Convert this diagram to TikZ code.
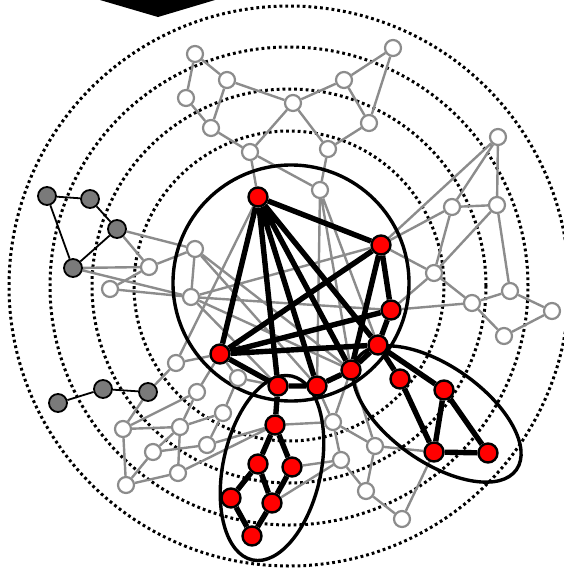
\documentclass[tikz,border=0pt]{standalone}
\usepackage{tikz}
\usetikzlibrary{backgrounds}

\definecolor{periline}{HTML}{8C8C8C}
\definecolor{tailfill}{HTML}{7A7A7A}

\begin{document}
\begin{tikzpicture}[x=1pt, y=-1pt]
    \tikzset{core/.style={circle, draw=black, line width=2.4pt, fill=red, minimum size=19pt, inner sep=0pt}}
    \tikzset{peri/.style={circle, draw=periline, line width=2.2pt, fill=white, minimum size=16pt, inner sep=0pt}}
    \tikzset{tail/.style={circle, draw=black, line width=1.8pt, fill=tailfill, minimum size=18pt, inner sep=0pt}}
    \tikzset{link/.style={draw=periline, line width=2.4pt}}
    \tikzset{taillink/.style={draw=black, line width=1.8pt}}
    \tikzset{corelink/.style={draw=black, line width=5.4pt}}
    \tikzset{shell/.style={draw=black, line width=3pt, dash pattern=on 2.8pt off 3pt}}
    \tikzset{hull/.style={draw=black, line width=3.4pt}}

    \useasboundingbox (0,0) rectangle (564,568);

    % marker at the top edge
    \fill (100,0) -- (158,17) -- (215,0) -- cycle;

    % core
    \node [core] (r1) at (258,197) {};
    \node [core] (r2) at (381,245) {};
    \node [core] (r3) at (391,310) {};
    \node [core] (r4) at (378,345) {};
    \node [core] (r5) at (220,354) {};
    \node [core] (r6) at (278,386) {};
    \node [core] (r7) at (317,386) {};
    \node [core] (r8) at (351,370) {};
    \node [core] (r9) at (400,379) {};
    \node [core] (r10) at (444,390) {};
    \node [core] (r11) at (434,452) {};
    \node [core] (r12) at (488,453) {};
    \node [core] (r13) at (275,425) {};
    \node [core] (r14) at (258,464) {};
    \node [core] (r15) at (292,467) {};
    \node [core] (r16) at (231,498) {};
    \node [core] (r17) at (272,503) {};
    \node [core] (r18) at (252,536) {};

    % periphery, top
    \node [peri] (g1) at (195,54) {};
    \node [peri] (g2) at (227,80) {};
    \node [peri] (g3) at (186,98) {};
    \node [peri] (g4) at (211,128) {};
    \node [peri] (g5) at (250,152) {};
    \node [peri] (g6) at (293,103) {};
    \node [peri] (g7) at (344,80) {};
    \node [peri] (g8) at (393,48) {};
    \node [peri] (g9) at (369,123) {};
    \node [peri] (g10) at (328,149) {};
    \node [peri] (g11) at (320,190) {};

    % periphery, left
    \node [peri] (g12) at (195,249) {};
    \node [peri] (g13) at (149,267) {};
    \node [peri] (g14) at (110,289) {};
    \node [peri] (g15) at (191,297) {};

    % periphery, right
    \node [peri] (g16) at (498,137) {};
    \node [peri] (g17) at (452,207) {};
    \node [peri] (g18) at (497,205) {};
    \node [peri] (g19) at (434,273) {};
    \node [peri] (g20) at (510,291) {};
    \node [peri] (g21) at (472,303) {};
    \node [peri] (g22) at (552,311) {};
    \node [peri] (g23) at (504,336) {};

    % periphery, bottom
    \node [peri] (g24) at (333,422) {};
    \node [peri] (g25) at (375,446) {};
    \node [peri] (g26) at (341,460) {};
    \node [peri] (g27) at (366,491) {};
    \node [peri] (g28) at (402,519) {};

    % periphery, lower left
    \node [peri] (g29) at (176,363) {};
    \node [peri] (g30) at (197,392) {};
    \node [peri] (g31) at (238,378) {};
    \node [peri] (g32) at (223,413) {};
    \node [peri] (g33) at (123,429) {};
    \node [peri] (g34) at (180,427) {};
    \node [peri] (g35) at (153,452) {};
    \node [peri] (g36) at (207,445) {};
    \node [peri] (g37) at (126,485) {};
    \node [peri] (g38) at (178,473) {};

    % tails
    \node [tail] (d1) at (47,196) {};
    \node [tail] (d2) at (90,199) {};
    \node [tail] (d3) at (117,229) {};
    \node [tail] (d4) at (73,268) {};
    \node [tail] (d5) at (58,403) {};
    \node [tail] (d6) at (103,389) {};
    \node [tail] (d7) at (148,392) {};

    \begin{scope}[on background layer]
    % shells
    \draw [shell] (289,286) circle [radius=280pt];
    \draw [shell] (289,286) circle [radius=239pt];
    \draw [shell] (289,286) circle [radius=197pt];
    \draw [shell] (289,286) circle [radius=155pt];

    % periphery links
    \draw [link] (g1) -- (g2) (g1) -- (g3) (g3) -- (g4) (g2) -- (g4) (g4) -- (g5);
    \draw [link] (g2) -- (g6) (g6) -- (g5) (g6) -- (g10) (g6) -- (g7) (g7) -- (g8);
    \draw [link] (g7) -- (g9) (g8) -- (g9) (g9) -- (g10) (g10) -- (g11) (g5) -- (g11) (g5) -- (r1);

    \draw [link] (d3) -- (g12) (d3) -- (g13) (d4) -- (g13) (d4) -- (g15);
    \draw [link] (g12) -- (g13) (g13) -- (g14) (g12) -- (g15) (g14) -- (g15);

    \draw [link] (g16) -- (r2) (g16) -- (g17) (g16) -- (g18) (g17) -- (g18) (g17) -- (r2);
    \draw [link] (g17) -- (g19) (g18) -- (g19) (g18) -- (g20) (g19) -- (r2) (g19) -- (r3);
    \draw [link] (g19) -- (g21) (g21) -- (r3) (g20) -- (g21) (g20) -- (g22) (g21) -- (g23) (g22) -- (g23);

    \draw [link] (r7) -- (g24) (r8) -- (g24) (r8) -- (g25) (g24) -- (g25) (g24) -- (g26) (g24) -- (r13);
    \draw [link] (g26) -- (r15) (g26) -- (r17) (g26) -- (g27) (g25) -- (g27) (g27) -- (g28);
    \draw [link] (g28) -- (r11) (g25) -- (r11);

    \draw [link] (g29) -- (r5) (g29) -- (r1) (d7) -- (g29) (d7) -- (g33) (g33) -- (g30) (g33) -- (g34);
    \draw [link] (g33) -- (g37) (g30) -- (g34) (g30) -- (r5) (g34) -- (g32) (g34) -- (g35) (g34) -- (g38);
    \draw [link] (g35) -- (g37) (g35) -- (g36) (g37) -- (g38) (g36) -- (g32) (g36) -- (r13) (g38) -- (r13);
    \draw [link] (g32) -- (g31) (g31) -- (r5) (g31) -- (r6);

    \draw [link] (g12) -- (r7) (g12) -- (r8) (g15) -- (r2) (g15) -- (r3) (g15) -- (r6) (g15) -- (r8);
    \draw [link] (g11) -- (r4) (g11) -- (r7) (g11) -- (r8);

    % tail links
    \draw [taillink] (d1) -- (d2) (d2) -- (d3) (d3) -- (d4) (d4) -- (d1);
    \draw [taillink] (d5) -- (d6) (d6) -- (d7);

    % groups
    \draw [hull] (291,283) circle [radius=118pt];
    \draw [hull, rotate around={-12:(272,468)}] (272,468) ellipse [x radius=49pt, y radius=94pt];
    \draw [hull, rotate around={-35:(437,414)}] (437,414) ellipse [x radius=97pt, y radius=48pt];

    % core links
    \draw [corelink] (r1) -- (r2) (r1) -- (r5) (r1) -- (r6) (r1) -- (r7) (r1) -- (r8) (r1) -- (r4);
    \draw [corelink] (r2) -- (r5) (r2) -- (r3) (r2) -- (r8) (r5) -- (r3) (r5) -- (r4) (r5) -- (r6);
    \draw [corelink] (r6) -- (r7) (r7) -- (r8) (r8) -- (r4) (r4) -- (r3) (r4) -- (r9) (r4) -- (r10);
    \draw [corelink] (r9) -- (r11) (r10) -- (r11) (r10) -- (r12) (r11) -- (r12);
    \draw [corelink] (r6) -- (r13) (r13) -- (r14) (r13) -- (r15) (r14) -- (r16) (r14) -- (r17);
    \draw [corelink] (r15) -- (r17) (r16) -- (r18) (r17) -- (r18);
    \end{scope}
\end{tikzpicture}
\end{document}
